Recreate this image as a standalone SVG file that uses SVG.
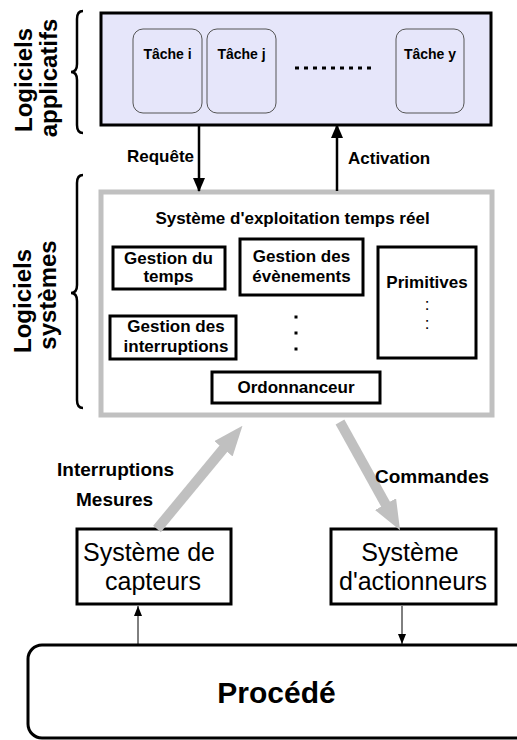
<svg xmlns="http://www.w3.org/2000/svg" width="517" height="740" viewBox="0 0 517 740">
<defs>
<style>
text{font-family:"Liberation Sans",Arial,sans-serif;fill:#000}
.b{font-weight:bold}
.mid{text-anchor:middle}
.box{fill:#fff;stroke:#000;stroke-width:3}
.task{fill:#e6e6fa;stroke:#555;stroke-width:1}
.brace{fill:none;stroke:#000;stroke-width:2.5}
.blk{stroke:#000;stroke-width:2.5;fill:none}
.thin{stroke:#000;stroke-width:1;fill:none}
.gray{stroke:#c0c0c0;stroke-width:10;fill:none}
.dot{fill:#000}
</style>
<marker id="ah" markerUnits="userSpaceOnUse" markerWidth="14" markerHeight="12" refX="13" refY="6" orient="auto">
<path d="M0,0 L14,6 L0,12 z" fill="#000"/>
</marker>
<marker id="ahs" markerUnits="userSpaceOnUse" markerWidth="10" markerHeight="8" refX="10" refY="4" orient="auto">
<path d="M0,0 L10,4 L0,8 z" fill="#000"/>
</marker>
<marker id="ahg" markerUnits="userSpaceOnUse" markerWidth="30" markerHeight="24" refX="1" refY="12" orient="auto">
<path d="M0,0 L30,12 L0,24 z" fill="#c0c0c0"/>
</marker>
</defs>
<rect width="517" height="740" fill="#fff"/>

<g id="label-applicatifs">
<path class="brace" d="M83,11 Q77,11 77,19 L77,64 Q77,72 71,72 Q77,72 77,80 L77,125 Q77,133 83,133"/>
<text class="b mid" font-size="24" transform="translate(32,80) rotate(-90)">Logiciels</text>
<text class="b mid" font-size="24" transform="translate(57,78) rotate(-90)">applicatifs</text>
</g>

<g id="label-systemes">
<path class="brace" d="M83,175 Q77,175 77,183 L77,285 Q77,293 71,293 Q77,293 77,301 L77,400 Q77,408 83,408"/>
<text class="b mid" font-size="24" transform="translate(31,301) rotate(-90)">Logiciels</text>
<text class="b mid" font-size="24" transform="translate(56,295) rotate(-90)">systèmes</text>
</g>

<g id="applications">
<rect x="101" y="13" width="390" height="112" fill="#e6e6fa" stroke="#000" stroke-width="3"/>
<line x1="295" y1="68" x2="376" y2="68" stroke="#000" stroke-width="3" stroke-dasharray="4 5"/>
</g>
<g id="tache-i">
<rect class="task" x="133" y="29" width="69" height="84" rx="10"/>
<text class="b mid" font-size="14" x="167.5" y="59">Tâche i</text>
</g>
<g id="tache-j">
<rect class="task" x="207" y="29" width="69" height="84" rx="10"/>
<text class="b mid" font-size="14" x="241.5" y="59">Tâche j</text>
</g>
<g id="tache-y">
<rect class="task" x="396" y="29" width="68" height="84" rx="10"/>
<text class="b mid" font-size="14" x="430" y="59">Tâche y</text>
</g>

<g id="rtos">
<rect x="101" y="192" width="391" height="223" fill="#fff" stroke="#c0c0c0" stroke-width="5"/>
<text class="b mid" font-size="17" x="292.5" y="224">Système d'exploitation temps réel</text>
<rect class="dot" x="294.5" y="315.5" width="3" height="3"/>
<rect class="dot" x="294.5" y="331.5" width="3" height="3"/>
<rect class="dot" x="294.5" y="347.5" width="3" height="3"/>
</g>
<g id="gestion-temps">
<rect class="box" x="113" y="247" width="112" height="42"/>
<text class="b mid" font-size="17" x="168.5" y="264">Gestion du</text>
<text class="b mid" font-size="17" x="168.5" y="282">temps</text>
</g>
<g id="gestion-evenements">
<rect class="box" x="240" y="239" width="123" height="56"/>
<text class="b mid" font-size="17" x="301.5" y="262">Gestion des</text>
<text class="b mid" font-size="17" x="301.5" y="282">évènements</text>
</g>
<g id="primitives">
<rect class="box" x="378" y="247" width="98" height="111"/>
<text class="b mid" font-size="17" x="427" y="288">Primitives</text>
<text class="mid" font-size="17" x="427" y="310">:</text>
<text class="mid" font-size="17" x="427" y="329">:</text>
</g>
<g id="gestion-interruptions">
<rect class="box" x="110" y="316" width="126" height="43"/>
<text class="b mid" font-size="17" x="176" y="332">Gestion des</text>
<text class="b mid" font-size="17" x="176" y="352">interruptions</text>
</g>
<g id="ordonnanceur">
<rect class="box" x="212" y="372" width="168" height="31"/>
<text class="b mid" font-size="17" x="296" y="393">Ordonnanceur</text>
</g>

<g id="capteurs">
<rect class="box" x="77" y="529" width="154" height="75"/>
<text class="mid" font-size="25" x="149" y="561">Système de</text>
<text class="mid" font-size="25" x="153" y="590">capteurs</text>
</g>
<g id="actionneurs">
<rect class="box" x="331" y="529" width="165" height="75"/>
<text class="mid" font-size="25" x="410" y="561">Système</text>
<text class="mid" font-size="25" x="413" y="590">d'actionneurs</text>
</g>
<g id="procede">
<rect class="box" x="28" y="645" width="505" height="93" rx="14"/>
<text class="b mid" font-size="30" x="276.5" y="703">Procédé</text>
</g>

<g id="connectors">
<line class="blk" x1="199" y1="126" x2="199" y2="191" marker-end="url(#ah)"/>
<line class="blk" x1="337" y1="191" x2="337" y2="125" marker-end="url(#ah)"/>
<text class="b" font-size="17" x="127" y="162">Requête</text>
<text class="b" font-size="17" x="348" y="164">Activation</text>
<line class="gray" x1="157" y1="529" x2="224" y2="448" marker-end="url(#ahg)"/>
<line class="gray" x1="340" y1="422" x2="386" y2="505" marker-end="url(#ahg)"/>
<text class="b" font-size="19" x="57" y="476">Interruptions</text>
<text class="b" font-size="19" x="76" y="506">Mesures</text>
<text class="b" font-size="19" x="375" y="483">Commandes</text>
<line class="thin" x1="138" y1="645" x2="138" y2="606" marker-end="url(#ahs)"/>
<line class="thin" x1="402" y1="606" x2="402" y2="644" marker-end="url(#ahs)"/>
</g>
</svg>
